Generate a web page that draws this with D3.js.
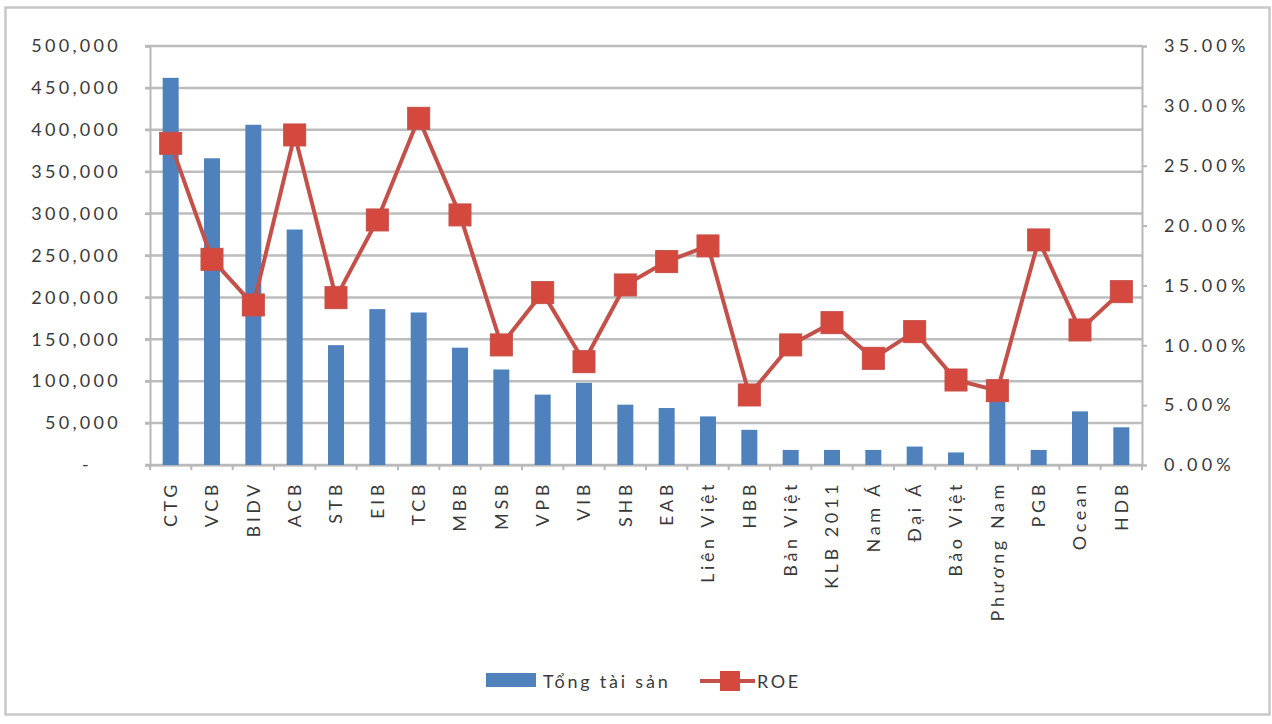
<!DOCTYPE html>
<html><head><meta charset="utf-8">
<script src="https://cdn.jsdelivr.net/npm/d3@7"></script>
<style>
html,body{margin:0;padding:0;background:#fff;}
text{font-family:Lato,"Open Sans",sans-serif;fill:#3a3a3a;}
</style></head>
<body><svg id="c" width="1272" height="724"></svg>
<script>
const categories = ["CTG","VCB","BIDV","ACB","STB","EIB","TCB","MBB","MSB","VPB","VIB","SHB","EAB","Liên Việt","HBB","Bản Việt","KLB 2011","Nam Á","Đại Á","Bảo Việt","Phương Nam","PGB","Ocean","HDB"];
const totalAssets = [462000,366000,406000,281000,143000,186000,182000,140000,114000,84000,98000,72000,68000,58000,42000,18000,18000,18000,22000,15000,78000,18000,64000,45000];
const roe = [0.2687,0.1718,0.1337,0.2757,0.1398,0.2047,0.2896,0.2089,0.1003,0.1440,0.0863,0.1504,0.1699,0.1830,0.0585,0.1003,0.1189,0.0891,0.1114,0.0710,0.0621,0.1880,0.1128,0.1448];
const leftTicks = [0,50000,100000,150000,200000,250000,300000,350000,400000,450000,500000];
const rightTicks = [0,0.05,0.10,0.15,0.20,0.25,0.30,0.35];
const legendLabels = ["Tổng tài sản","ROE"];

const svg = d3.select("#c");
svg.append("rect").attr("x",5.5).attr("y",7.5).attr("width",1264).attr("height",707)
  .attr("fill","#fff").attr("stroke","#c8c8c8").attr("stroke-width",2.5);

const L=150, R=1142, T=46, B=465;
const x = d3.scaleBand().domain(categories).range([L,R]).paddingInner(0).paddingOuter(0);
const yL = d3.scaleLinear().domain([0,500000]).range([B,T]);
const yR = d3.scaleLinear().domain([0,0.35]).range([B,T]);

// gridlines
svg.append("g").selectAll("line").data(leftTicks).join("line")
  .attr("x1",L-5).attr("x2",R).attr("y1",d=>yL(d)).attr("y2",d=>yL(d))
  .attr("stroke","#bdbdbd").attr("stroke-width",2.5);

// left axis
const axL = svg.append("g").attr("transform",`translate(${L},0)`)
  .call(d3.axisLeft(yL).tickValues(leftTicks).tickSize(5).tickPadding(24)
    .tickFormat(d=> d===0 ? "-" : d3.format(",")(d)));
axL.select(".domain").attr("stroke","#b8b8b8").attr("stroke-width",2);
axL.selectAll(".tick line").attr("stroke","#b8b8b8").attr("stroke-width",2);
axL.selectAll("text").style("font-size","18px").style("letter-spacing","3.3px").attr("fill","#3a3a3a");
axL.selectAll(".tick").filter(d=>d===0).select("text").attr("x",-58);

// right axis
const axR = svg.append("g").attr("transform",`translate(${R},0)`)
  .call(d3.axisRight(yR).tickValues(rightTicks).tickSize(5).tickPadding(17)
    .tickFormat(d3.format(".2%")));
axR.select(".domain").attr("stroke","#b8b8b8").attr("stroke-width",2);
axR.selectAll(".tick line").attr("stroke","#b8b8b8").attr("stroke-width",2);
axR.selectAll("text").style("font-size","18px").style("letter-spacing","4.2px").attr("fill","#3a3a3a");

// bottom axis
const axB = svg.append("g").attr("transform",`translate(0,${B})`)
  .call(d3.axisBottom(x).tickSize(0).tickPadding(0));
axB.select(".domain").attr("stroke","#b8b8b8").attr("stroke-width",2);
axB.selectAll("text").style("font-size","18px").style("letter-spacing","3.6px").attr("fill","#3a3a3a")
  .attr("text-anchor","end").attr("transform","rotate(-90)")
  .attr("x",-16).attr("y",0).attr("dy","0.36em").attr("dx",0);
// minor ticks between categories
svg.append("g").selectAll("line").data(categories.concat(["__end"])).join("line")
  .attr("x1",(d,i)=>L+i*x.step()).attr("x2",(d,i)=>L+i*x.step())
  .attr("y1",B).attr("y2",B+5).attr("stroke","#b8b8b8").attr("stroke-width",2);

// bars
const bw = 16;
svg.append("g").selectAll("rect").data(categories).join("rect")
  .attr("x",d=>x(d)+x.bandwidth()/2-bw/2).attr("width",bw)
  .attr("y",(d,i)=>yL(totalAssets[i])).attr("height",(d,i)=>B-yL(totalAssets[i]))
  .attr("fill","#4f81bd");

// ROE line
const line = d3.line().x((d,i)=>x(categories[i])+x.bandwidth()/2).y(d=>yR(d));
svg.append("path").datum(roe).attr("d",line).attr("fill","none")
  .attr("stroke","#c4504a").attr("stroke-width",4).attr("stroke-linejoin","round");
const ms = 22;
svg.append("g").selectAll("rect").data(roe).join("rect")
  .attr("x",(d,i)=>x(categories[i])+x.bandwidth()/2-ms/2).attr("y",d=>yR(d)-ms/2)
  .attr("width",ms).attr("height",ms).attr("fill","#d5483d").attr("stroke","#c4504a").attr("stroke-width",1);

// legend
const lg = svg.append("g");
lg.append("rect").attr("x",486).attr("y",673).attr("width",50).attr("height",14).attr("fill","#4f81bd");
lg.append("text").attr("x",543).attr("y",688).style("font-size","18px").style("letter-spacing","2.8px").text(legendLabels[0]);
lg.append("line").attr("x1",700).attr("x2",755).attr("y1",681).attr("y2",681).attr("stroke","#c4504a").attr("stroke-width",4);
lg.append("rect").attr("x",720).attr("y",671).attr("width",20).attr("height",20).attr("fill","#d5483d");
lg.append("text").attr("x",757).attr("y",688).style("font-size","18px").style("letter-spacing","2.6px").text(legendLabels[1]);
</script></body></html>
